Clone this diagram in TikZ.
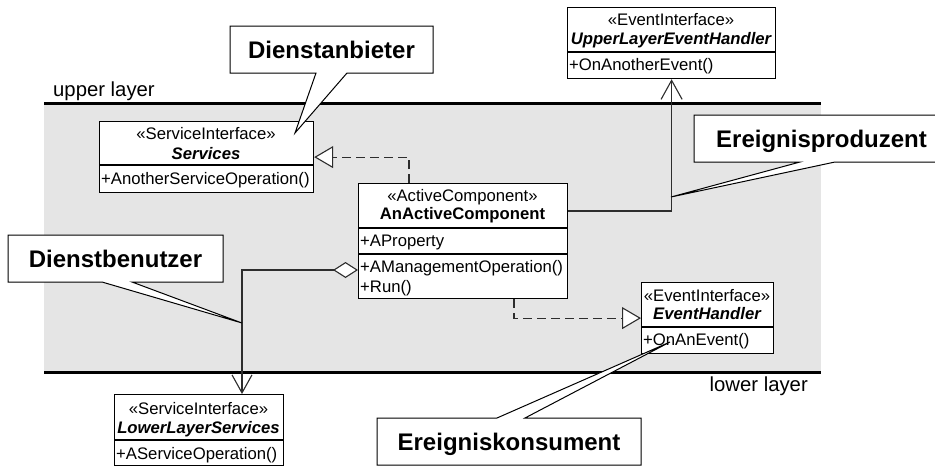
\documentclass[tikz,border=0pt]{standalone}
\usepackage{fontspec}
\setmainfont{Liberation Sans}
\usetikzlibrary{arrows.meta,calc}
\definecolor{layergray}{RGB}{229,229,229}
\definecolor{linegray}{RGB}{45,45,45}
\begin{document}
\begin{tikzpicture}[x=1pt,y=-1pt,
  classbox/.style={draw=black, fill=white, line width=1.2pt, inner sep=0pt, anchor=north west},
  clsfont/.style={font=\fontsize{16.7}{19.5}\selectfont, inner sep=0pt, text height=12pt, text depth=0pt},
  ctext/.style={clsfont, anchor=center},
  optext/.style={clsfont, anchor=west},
  divider/.style={line width=1.2pt},
  layerline/.style={line width=3pt},
  layerlabel/.style={font=\fontsize{20.3}{24}\selectfont, inner sep=0pt},
  conn/.style={draw=linegray, line width=1.1pt},
  realize/.style={conn, dash pattern=on 9pt off 5pt,
    -{Triangle[length=19pt,width=22pt,fill=white,line width=1.1pt]}},
  assoc/.style={conn, -{Straight Barb[length=19pt,width=21pt,line width=1.1pt]}},
  aggr/.style={conn, {Diamond[length=25pt,width=16pt,fill=white,line width=1.1pt]}-{Straight Barb[length=18pt,width=20pt,line width=1.1pt]}},
  callout/.style={draw=black, fill=white, line width=1pt},
  callouttext/.style={font=\fontsize{24}{28}\selectfont\bfseries, inner sep=0pt, text height=17pt, text depth=0pt, anchor=center}
]
\useasboundingbox (0,0) rectangle (935,466);
\clip (0,0) rectangle (935,466);

% layer band with its two borders
\fill[layergray] (44,103) rectangle (821,372);
\draw[layerline] (44,103) -- (821,103);
\draw[layerline] (44,372) -- (821,372);
\node[layerlabel, anchor=base west] (ul) at (53,96) {upper layer};
\node[layerlabel, anchor=base east] (ll) at (808,391) {lower layer};

% class boxes
\node[classbox, minimum width=214pt, minimum height=71pt] (svc) at (99,121) {};
\node[classbox, minimum width=209pt, minimum height=115pt] (act) at (358,183) {};
\node[classbox, minimum width=208pt, minimum height=71pt] (upper) at (567,7) {};
\node[classbox, minimum width=132pt, minimum height=71pt] (eh) at (641,282) {};
\node[classbox, minimum width=169pt, minimum height=71pt] (lower) at (114,394) {};

% connectors
\draw[realize] ($(act.north west)+(51,0)$) |- (svc.east);
\draw[assoc] ($(act.north east)+(0,28)$) -| (upper.south);
\draw[aggr] ($(act.north west)+(0,87)$) -| ($(lower.north west)+(128,0)$);
\draw[realize] ($(act.south west)+(156,0)$) |- (eh.west);

% Services
\draw[divider] (99,165) -- (313,165);
\node[ctext] (svc-st) at (206,133) {«ServiceInterface»};
\node[ctext, font=\fontsize{16.7}{19.5}\selectfont\bfseries\itshape] (svc-nm) at (206,153) {Services};
\node[optext] (svc-op) at (101,178) {+AnotherServiceOperation()};

% AnActiveComponent
\draw[divider] (358,228) -- (567,228);
\draw[divider] (358,254) -- (567,254);
\node[ctext] (act-st) at (462.5,195) {«ActiveComponent»};
\node[ctext, font=\fontsize{16.7}{19.5}\selectfont\bfseries] (act-nm) at (462.5,213) {AnActiveComponent};
\node[optext] (act-at) at (360,240) {+AProperty};
\node[optext] (act-op1) at (360,266) {+AManagementOperation()};
\node[optext] (act-op2) at (360,286) {+Run()};

% UpperLayerEventHandler
\draw[divider] (567,52) -- (775,52);
\node[ctext] (up-st) at (671,19) {«EventInterface»};
\node[ctext, font=\fontsize{16.7}{19.5}\selectfont\bfseries\itshape] (up-nm) at (671,38) {UpperLayerEventHandler};
\node[optext] (up-op) at (569,64) {+OnAnotherEvent()};

% EventHandler
\draw[divider] (641,327) -- (773,327);
\node[ctext] (eh-st) at (707,295) {«EventInterface»};
\node[ctext, font=\fontsize{16.7}{19.5}\selectfont\bfseries\itshape] (eh-nm) at (707,313) {EventHandler};
\node[optext] (eh-op) at (643,339) {+OnAnEvent()};

% LowerLayerServices
\draw[divider] (114,440) -- (283,440);
\node[ctext] (lo-st) at (198.5,408) {«ServiceInterface»};
\node[ctext, font=\fontsize{16.7}{19.5}\selectfont\bfseries\itshape] (lo-nm) at (198.5,427) {LowerLayerServices};
\node[optext] (lo-op) at (116,453) {+AServiceOperation()};

% callouts
\draw[callout] (230,26) -- (433,26) -- (433,73) -- (347,73) -- (295,133) -- (316,73) -- (230,73) -- cycle;
\node[callouttext] (c-anbieter) at (331.5,49.5) {Dienstanbieter};

\draw[callout] (694,115) -- (950,115) -- (950,162) -- (835,162) -- (671,197) -- (800,162) -- (694,162) -- cycle;
\node[callouttext] (c-produzent) at (821.5,138.5) {Ereignisproduzent};

\draw[callout] (8,235) -- (223,235) -- (223,282) -- (132,282) -- (242,323) -- (102,282) -- (8,282) -- cycle;
\node[callouttext] (c-benutzer) at (115.5,258.5) {Dienstbenutzer};

\draw[callout] (377,418) -- (497,418) -- (670,342) -- (525,418) -- (641,418) -- (641,465) -- (377,465) -- cycle;
\node[callouttext] (c-konsument) at (509,441.5) {Ereigniskonsument};
\end{tikzpicture}
\end{document}
